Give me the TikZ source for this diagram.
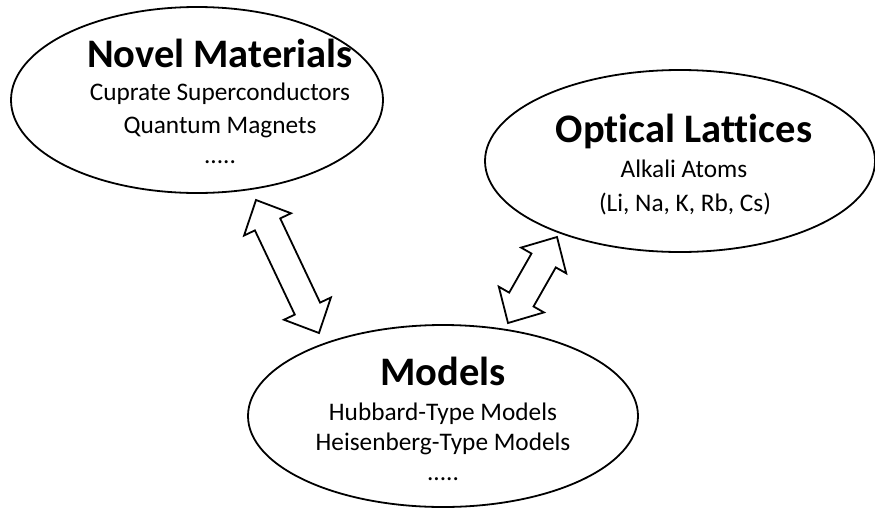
\documentclass[tikz,border=0pt]{standalone}
\usepackage{fontspec}
\setmainfont[Ligatures=NoCommon]{Carlito}
\usetikzlibrary{shapes.geometric,calc}

% hollow double-headed arrow between two named points
\newcommand\hollowarrow[2]{%
  \draw[arrowline] (#1)
    -- ($(#1)!\headlen!(#2)!\headhw!90:(#2)$)
    -- ($(#1)!\headlen!(#2)!\shafthw!90:(#2)$)
    -- ($(#2)!\headlen!(#1)!\shafthw!-90:(#1)$)
    -- ($(#2)!\headlen!(#1)!\headhw!-90:(#1)$)
    -- (#2)
    -- ($(#2)!\headlen!(#1)!\headhw!90:(#1)$)
    -- ($(#2)!\headlen!(#1)!\shafthw!90:(#1)$)
    -- ($(#1)!\headlen!(#2)!\shafthw!-90:(#2)$)
    -- ($(#1)!\headlen!(#2)!\headhw!-90:(#2)$)
    -- cycle;}
\def\headlen{27pt}
\def\headhw{26pt}
\def\shafthw{14pt}

\begin{document}
\begin{tikzpicture}[x=1pt,y=-1pt,
  topic/.style={draw=black, line width=1.8pt, ellipse, inner sep=0pt},
  title/.style={anchor=base, inner sep=0pt, font=\fontsize{40.5}{44}\selectfont\bfseries},
  item/.style={anchor=base, inner sep=0pt, font=\fontsize{25.3}{30}\selectfont},
  arrowline/.style={draw=black, line width=1.8pt, fill=white, line join=miter}]
\useasboundingbox (0,0) rectangle (875,509);

% the three topic ellipses
\node[topic, minimum width=372pt, minimum height=186pt] (novel) at (197,100) {};
\node[topic, minimum width=390pt, minimum height=182pt] (optical) at (680,161) {};
\node[topic, minimum width=390pt, minimum height=182pt] (models) at (443,416) {};

% texts
\node[title] (novelT) at (220,67) {Novel Materials};
\node[item] (novel1) at (220,100) {Cuprate Superconductors};
\node[item] (novel2) at (220,133) {Quantum Magnets};
\node[item] (novel3) at (220,163) {.....};

\node[title] (opticalT) at (684,142) {Optical Lattices};
\node[item] (optical1) at (684,177) {Alkali Atoms};
\node[item] (optical2) at (685,211) {(Li, Na, K, Rb, Cs)};

\node[title] (modelsT) at (443,385) {Models};
\node[item] (models1) at (443,420) {Hubbard-Type Models};
\node[item] (models2) at (443,450) {Heisenberg-Type Models};
\node[item] (models3) at (443,480) {.....};

% arrow end points on the ellipse rims
\coordinate (novelTip) at (256,200);
\coordinate (modelsTipL) at (319,333);
\coordinate (opticalTip) at (557,237);
\coordinate (modelsTipR) at (508,323);

\hollowarrow{novelTip}{modelsTipL}
\hollowarrow{opticalTip}{modelsTipR}
\end{tikzpicture}
\end{document}
